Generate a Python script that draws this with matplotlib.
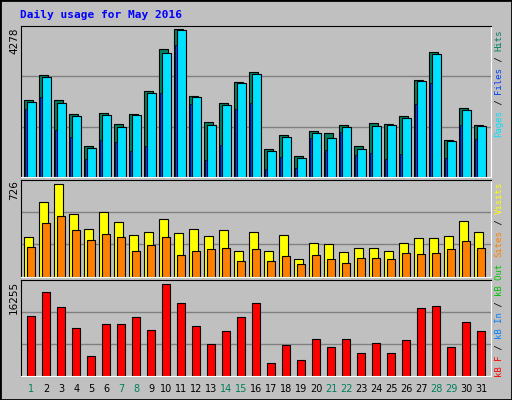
import matplotlib
matplotlib.use("Agg")
import matplotlib.pyplot as plt
from matplotlib.patches import Rectangle
import numpy as np

days = list(range(1, 32))
weekend = [1, 7, 8, 14, 15, 21, 22, 28, 29]
hits = [2172,2871,2172,1794,869,1823,1511,1794,2427,3608,4174,2304,1568,2106,2673,2965,803,1199,586,1313,1256,1483,869,1539,1511,1738,2729,3523,1058,1964,1483]
files = [2134,2814,2106,1738,831,1766,1426,1766,2361,3494,4146,2248,1483,2049,2644,2899,746,1143,548,1256,1114,1426,803,1454,1483,1681,2701,3466,1029,1908,1454]
pages = [1917,2276,1341,1143,519,1058,1001,746,888,2389,3721,2078,491,916,1936,2106,236,576,264,1114,774,1284,633,689,519,661,2078,2644,548,1483,1086]
visits = [294,559,694,468,355,483,408,309,332,430,325,355,302,347,189,332,189,309,128,249,242,181,211,211,189,249,287,287,302,415,332]
sites = [219,400,453,347,272,317,294,189,234,294,159,189,204,211,113,204,113,151,91,159,128,98,136,136,128,174,166,174,204,264,211]
kbytes = [10117,14210,11652,8071,3467,8753,8753,9947,7730,15574,12334,8412,5343,7560,9947,12334,2274,5172,2785,6196,4831,6196,3979,5513,3979,6025,11482,11823,4831,9094,7560]
max_hits, max_visits, max_kb = 4278, 726, 16255

W, H = 512, 400
fig = plt.figure(figsize=(W/100, H/100), dpi=100, facecolor="#C0C0C0")
fig.patches.append(Rectangle((0, 0), 1, 1, transform=fig.transFigure, fill=False, edgecolor="black", lw=2))

def px_axes(x0, y0, x1, y1):
    return fig.add_axes([x0/W, 1-y1/H, (x1-x0)/W, (y1-y0)/H])

x = np.array(days)
xl, xr = 20.7, 491
def style(ax, ymax):
    ax.set_facecolor("#C0C0C0")
    ax.set_xlim(0.3, 31.65)
    ax.set_ylim(0, ymax)
    for y in (ymax/3, 2*ymax/3):
        ax.axhline(y, color="#808080", lw=1, zorder=0)
    ax.set_xticks([]); ax.set_yticks([])
    for s in ("top", "left"):
        ax.spines[s].set_color("black")
    for s in ("bottom", "right"):
        ax.spines[s].set_color("white")

ec = dict(edgecolor="black", linewidth=0.8)
ax1 = px_axes(xl, 25.7, xr, 177)
style(ax1, max_hits)
ax1.bar(x - 0.45, hits, width=0.6, align="edge", color="#008060", **ec)
ax1.bar(x - 0.25, files, width=0.6, align="edge", color="#00E0FF", **ec)
ax1.bar(x - 0.4, pages, width=0.14, align="edge", color="#0040FF", edgecolor="black", linewidth=0.5)

ax2 = px_axes(xl, 180, xr, 276.5)
style(ax2, max_visits)
ax2.bar(x - 0.45, visits, width=0.55, align="edge", color="#FFFF00", **ec)
ax2.bar(x - 0.25, sites, width=0.5, align="edge", color="#FF8000", **ec)

ax3 = px_axes(xl, 280, xr, 376)
style(ax3, max_kb)
ax3.bar(x - 0.25, kbytes, width=0.5, align="edge", color="#FF0000", **ec)

fig.text(20/W, 1-15/H, "Daily usage for May 2016", color="#0000FF", fontsize=8,
         family="DejaVu Sans Mono", fontweight="bold", va="center")

for lab, ytop in ((str(max_hits), 28), (str(max_visits), 180), (str(max_kb), 281)):
    fig.text(14/W, 1-ytop/H, lab, rotation=90, fontsize=7.5, family="DejaVu Sans",
             ha="center", va="top", color="black")

for d in days:
    xp = xl + (d - 0.3) / (31.65 - 0.3) * (xr - xl)
    fig.text(xp/W, 1-389/H, str(d), fontsize=7, family="DejaVu Sans", ha="center", va="center",
             color="#00805C" if d in weekend else "black")

cw = 5.4
def vlabel(pieces, ybottom):
    y = ybottom
    for txt, col in pieces:
        fig.text(499/W, 1-y/H, txt, rotation=90, fontsize=6.5, family="DejaVu Sans Mono",
                 color=col, ha="center", va="bottom")
        y -= cw*len(txt)

vlabel([("Pages", "#00E0FF"), (" / ", "black"), ("Files", "#0040FF"), (" / ", "black"), ("Hits", "#008060")], 137)
vlabel([("Sites", "#FF8000"), (" / ", "black"), ("Visits", "#FFFF00")], 257)
vlabel([("kB F", "#FF0000"), (" / ", "black"), ("kB In", "#0080FF"), (" / ", "black"), ("kB Out", "#00C000")], 377)

fig.savefig("out.png", dpi=100, facecolor=fig.get_facecolor())
